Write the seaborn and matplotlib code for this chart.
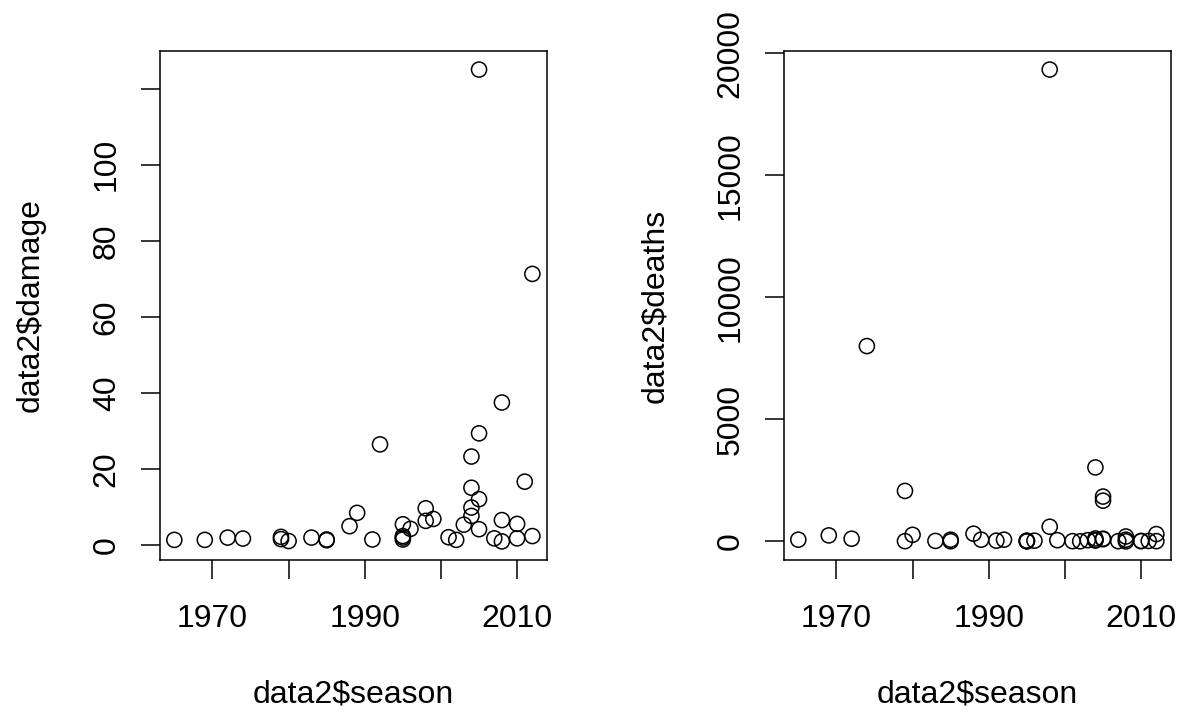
import numpy as np
import pandas as pd
import matplotlib
matplotlib.use("Agg")
import matplotlib.pyplot as plt
import seaborn as sns

# hurricane seasons with damage (billions) and deaths
season = [1965, 1969, 1972, 1974, 1979, 1979, 1980, 1983, 1985, 1985,
          1988, 1989, 1991, 1992, 1995, 1995, 1995, 1995, 1996, 1998,
          1998, 1999, 2001, 2002, 2003, 2004, 2004, 2004, 2004, 2005,
          2005, 2005, 2005, 2007, 2008, 2008, 2008, 2010, 2010, 2011,
          2012, 2012]
damage = [1.4, 1.4, 2.0, 1.75, 2.2, 1.6, 1.1, 2.0, 1.5, 1.3,
          5.0, 8.5, 1.5, 26.5, 5.5, 2.4, 2.0, 1.5, 4.3, 9.7,
          6.4, 6.9, 2.1, 1.4, 5.4, 23.3, 15.1, 9.9, 7.7, 125.0,
          29.4, 12.1, 4.2, 1.8, 37.5, 6.6, 1.0, 5.6, 1.8, 16.7,
          71.3, 2.4]
deaths = [70, 246, 110, 8000, 2068, 10, 270, 20, 70, 5,
          315, 70, 30, 70, 10, 30, 15, 5, 30, 600,
          19325, 50, 10, 5, 50, 120, 40, 50, 3030, 1836,
          90, 110, 1668, 10, 200, 70, 0, 20, 10, 20,
          300, 10]

x_ticks = [1970, 1980, 1990, 2000, 2010]
x_labels = ["1970", "", "1990", "", "2010"]
dmg_ticks = [0, 20, 40, 60, 80, 100, 120]
dmg_labels = ["0", "20", "40", "60", "80", "100", ""]
death_ticks = [0, 5000, 10000, 15000, 20000]

data2 = pd.DataFrame({"season": season, "damage": damage, "deaths": deaths})

sns.set_style("white")
plt.rcParams["font.family"] = ["Liberation Sans", "DejaVu Sans"]
plt.rcParams["axes.labelcolor"] = "black"
plt.rcParams["text.color"] = "black"


def r_lim(v):
    lo, hi = min(v), max(v)
    pad = (hi - lo) * 0.04
    return lo - pad, hi + pad


fig = plt.figure(figsize=(11.8, 7.12), dpi=100)
ax1 = fig.add_axes([0.1356, 0.2131, 0.3277, 0.7157])
ax2 = fig.add_axes([0.6644, 0.2131, 0.3277, 0.7157])

panels = [
    (ax1, "damage", dmg_ticks, dmg_labels, "data2$damage"),
    (ax2, "deaths", death_ticks, [str(t) for t in death_ticks], "data2$deaths"),
]

fs = 23
for ax, col, yt, yl, ylab in panels:
    sns.scatterplot(data=data2, x="season", y=col, ax=ax, marker="o", s=118,
                    facecolor="none", edgecolor="black", linewidth=1.1)
    ax.set_xlim(r_lim(season))
    ax.set_ylim(r_lim(data2[col]))
    ax.set_xticks(x_ticks)
    ax.set_xticklabels(x_labels)
    ax.set_yticks(yt)
    ax.set_yticklabels(yl, rotation=90, va="center")
    for sp in ax.spines.values():
        sp.set_visible(True)
        sp.set_color("black")
        sp.set_linewidth(1.1)
    ax.tick_params(axis="both", direction="out", length=13.5, width=1.1,
                   labelsize=fs, colors="black", left=True, bottom=True)
    ax.tick_params(axis="x", pad=18)
    ax.tick_params(axis="y", pad=14)
    ax.set_xlabel("data2$season", fontsize=fs, labelpad=33)
    ax.set_ylabel(ylab, fontsize=fs, labelpad=33)
    ax.grid(False)

fig.savefig("out.png", dpi=100, facecolor="white")
